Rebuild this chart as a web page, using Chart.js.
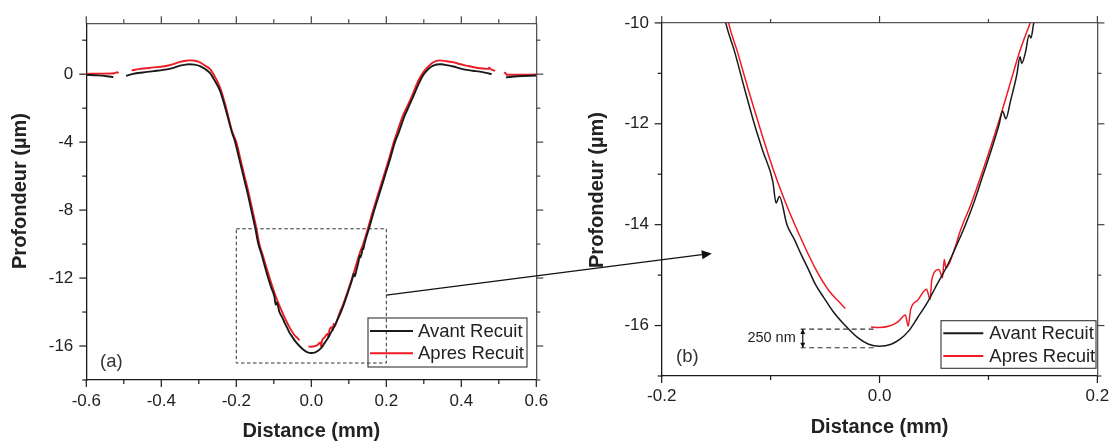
<!DOCTYPE html>
<html><head><meta charset="utf-8">
<script src="https://cdn.jsdelivr.net/npm/chart.js@4.4.1/dist/chart.umd.min.js"></script>
<style>
html,body{margin:0;padding:0;background:#fff;}
#wrap{position:relative;width:1119px;height:444px;overflow:hidden;background:#fff;}
canvas{position:absolute;top:0;}
</style></head><body>
<div id="wrap">
<canvas id="cA" width="560" height="444" style="left:0;width:560px;height:444px"></canvas>
<canvas id="cB" width="559" height="444" style="left:560px;width:559px;height:444px"></canvas>
<canvas id="ov" width="1119" height="444" style="left:0;width:1119px;height:444px;pointer-events:none"></canvas>
</div>
<script>
// ---------------- data ----------------
const seriesLabels = ['Avant Recuit', 'Apres Recuit'];
const seriesColors = ['#1a1a1a', '#ed1c24'];
const xTitle = 'Distance (mm)';
const yTitle = 'Profondeur (µm)';

// [distance (mm), depth (µm)] ; null = gap in the profile
const avant = [
 [-0.6,-0.04],[-0.57,-0.07],[-0.545,-0.12],[-0.528,-0.17],[-0.51,null],[-0.494,-0.1],[-0.475,0.02],
 [-0.45,0.1],[-0.42,0.18],[-0.395,0.25],[-0.37,0.36],[-0.35,0.5],[-0.335,0.56],[-0.325,0.58],
 [-0.312,0.56],[-0.297,0.48],[-0.283,0.3],[-0.27,0.06],[-0.257,-0.4],[-0.243,-1.0],[-0.228,-2.1],
 [-0.212,-3.4],[-0.203,-4.0],[-0.192,-5.0],[-0.181,-6.0],[-0.17,-7.0],[-0.16,-8.0],[-0.15,-9.0],
 [-0.1412,-10],[-0.1331,-10.57],[-0.124,-11.3],[-0.115,-12.0],[-0.107,-12.55],[-0.098,-13.14],
 [-0.095,-13.57],[-0.092,-13.44],[-0.085,-14.0],[-0.078,-14.3],[-0.072,-14.59],[-0.065,-14.9],
 [-0.059,-15.18],[-0.051,-15.45],[-0.043,-15.71],[-0.0315,-16.0],[-0.02,-16.24],[-0.01,-16.37],
 [0,-16.41],[0.0107,-16.37],[0.0188,-16.27],[0.027,-16.1],[0.035,-15.84],[0.0448,-15.51],
 [0.0529,-15.18],[0.0627,-14.79],[0.0724,-14.33],[0.0789,-14.0],[0.087,-13.54],[0.0951,-13.01],
 [0.1032,-12.48],[0.1097,-12.02],[0.113,-11.75],[0.116,-11.9],[0.1201,-11.56],[0.126,-11.03],
 [0.129,-10.67],[0.1305,-10.8],[0.1341,-10.57],[0.1373,-10.24],[0.139,-10.3],[0.1416,-10.0],
 [0.155,-9.0],[0.168,-8.0],[0.182,-7.0],[0.196,-6.0],[0.21,-5.0],[0.223,-4.0],[0.232,-3.5],
 [0.248,-2.5],[0.26,-1.9],[0.272,-1.3],[0.288,-0.5],[0.299,-0.04],[0.312,0.3],[0.325,0.5],
 [0.345,0.58],[0.365,0.52],[0.379,0.45],[0.395,0.35],[0.414,0.25],[0.43,0.2],[0.45,0.15],
 [0.466,0.08],[0.481,0.0],[0.5,null],[0.519,-0.19],[0.55,-0.12],[0.6,-0.08]
];
const apres = [
 [-0.6,0.02],[-0.56,0.03],[-0.525,0.05],[-0.518,0.12],[-0.514,0.05],[-0.5,null],[-0.479,0.22],
 [-0.46,0.3],[-0.44,0.35],[-0.42,0.4],[-0.395,0.45],[-0.37,0.58],[-0.35,0.72],[-0.335,0.79],
 [-0.325,0.81],[-0.31,0.79],[-0.297,0.7],[-0.283,0.5],[-0.27,0.3],[-0.257,-0.15],[-0.243,-0.8],
 [-0.228,-1.9],[-0.212,-3.3],[-0.2,-4.0],[-0.189,-5.0],[-0.178,-6.0],[-0.167,-7.0],[-0.157,-8.0],
 [-0.147,-9.0],[-0.1386,-10],[-0.1305,-10.57],[-0.1208,-11.3],[-0.111,-12.0],[-0.098,-12.88],
 [-0.0867,-13.54],[-0.0737,-14.2],[-0.0591,-14.86],[-0.0461,-15.32],[-0.038,-15.51],[-0.0315,-15.66],
 [-0.02,null],[-0.0078,-16.03],[-0.0006,-16.04],[0.009,-16.01],[0.0172,-15.92],[0.0237,-15.79],
 [0.0263,-16.01],[0.0286,-15.68],[0.035,-15.5],[0.0432,-15.28],[0.0464,-15.48],[0.048,-15.09],
 [0.0545,-14.89],[0.0578,-15.05],[0.0594,-14.69],[0.061,-14.86],[0.0692,-14.46],[0.074,-14.13],
 [0.0838,-13.6],[0.0935,-13.01],[0.1032,-12.38],[0.1114,-11.82],[0.1195,-11.23],[0.1276,-10.64],
 [0.1341,-10.24],[0.1383,-10],[0.152,-9.0],[0.165,-8.0],[0.179,-7.0],[0.193,-6.0],[0.207,-5.0],
 [0.22,-4.0],[0.229,-3.4],[0.245,-2.4],[0.258,-1.8],[0.27,-1.2],[0.285,-0.4],[0.299,0.12],
 [0.312,0.45],[0.325,0.7],[0.343,0.81],[0.36,0.76],[0.379,0.7],[0.395,0.6],[0.414,0.5],
 [0.43,0.42],[0.45,0.35],[0.472,0.31],[0.474,0.38],[0.478,0.3],[0.49,0.19],[0.5,null],
 [0.514,0.1],[0.518,0.05],[0.521,-0.03],[0.56,-0.03],[0.6,-0.02]
];

// axes / ticks
const aXRange = [-0.6, 0.6], aYRange = [-18, 3];
const aXMajor = [-0.6,-0.4,-0.2,0,0.2,0.4,0.6], aXMinor = [-0.5,-0.3,-0.1,0.1,0.3,0.5];
const aYMajor = [0,-4,-8,-12,-16], aYMinor = [2,-2,-6,-10,-14,-18];
const bXRange = [-0.2, 0.2], bYRange = [-17, -10];
const bXMajor = [-0.2,0,0.2], bXMinor = [-0.1,0.1];
const bYMajor = [-10,-12,-14,-16], bYMinor = [-11,-13,-15,-17];

// annotations (data units)
const zoomBoxX = [-0.2, 0.2], zoomBoxY = [-17, -9.1];
const arrowFrom = [0.2, -13];       // panel (a)
const arrowTo = [-0.154, -14.57];   // panel (b)
const gapText = '250 nm';
const gapLevels = [-16.07, -16.44];
const gapSpanX = [-0.0724, -0.0047];
const gapArrowX = -0.0705;
const panelLabels = ['(a)', '(b)'];

// ---------------- drawing ----------------
const FONT = '"Liberation Sans", Arial, Helvetica, sans-serif';
const toPts = arr => arr.map(([x, y]) => ({x, y}));

const decor = {
  id: 'decor',
  afterDatasetsDraw(chart, args, o) {
    const ctx = chart.ctx, s = chart.scales;
    if (o.zoomBox) {
      const x1 = s.x.getPixelForValue(o.zoomBox.x[0]), x2 = s.x.getPixelForValue(o.zoomBox.x[1]);
      const y1 = s.y.getPixelForValue(o.zoomBox.y[1]), y2 = s.y.getPixelForValue(o.zoomBox.y[0]);
      ctx.save(); ctx.strokeStyle = '#333'; ctx.lineWidth = 1; ctx.setLineDash([3.5, 2.5]);
      ctx.strokeRect(x1, y1, x2 - x1, y2 - y1); ctx.restore();
    }
    if (o.gap) {
      ctx.save(); ctx.strokeStyle = '#333'; ctx.lineWidth = 1.1; ctx.setLineDash([5, 3.5]);
      const xa = s.x.getPixelForValue(gapSpanX[0]), xb = s.x.getPixelForValue(gapSpanX[1]);
      const ys = gapLevels.map(v => s.y.getPixelForValue(v));
      ys.forEach(yy => { ctx.beginPath(); ctx.moveTo(xa, yy); ctx.lineTo(xb, yy); ctx.stroke(); });
      ctx.setLineDash([]);
      const ax = s.x.getPixelForValue(gapArrowX);
      ctx.strokeStyle = '#111'; ctx.lineWidth = 1.2;
      ctx.beginPath(); ctx.moveTo(ax, ys[0]); ctx.lineTo(ax, ys[1]); ctx.stroke();
      ctx.fillStyle = '#111';
      ctx.beginPath(); ctx.moveTo(ax, ys[0]); ctx.lineTo(ax - 2.5, ys[0] + 5); ctx.lineTo(ax + 2.5, ys[0] + 5); ctx.closePath(); ctx.fill();
      ctx.beginPath(); ctx.moveTo(ax, ys[1]); ctx.lineTo(ax - 2.5, ys[1] - 5); ctx.lineTo(ax + 2.5, ys[1] - 5); ctx.closePath(); ctx.fill();
      ctx.font = '14.5px ' + FONT; ctx.fillStyle = '#222'; ctx.textAlign = 'right'; ctx.textBaseline = 'middle';
      ctx.fillText(gapText, ax - 7, (ys[0] + ys[1]) / 2);
      ctx.restore();
    }
  },
  afterDraw(chart, args, o) {
    const ctx = chart.ctx, s = chart.scales, ca = chart.chartArea;
    ctx.save();
    const line = (a, b, c, d) => { ctx.beginPath(); ctx.moveTo(a, b); ctx.lineTo(c, d); ctx.stroke(); };
    ctx.lineWidth = 1.2;
    const doX = (vals, len) => vals.forEach(v => {
      const p = s.x.getPixelForValue(v);
      ctx.strokeStyle = '#1a1a1a'; line(p, ca.bottom, p, ca.bottom + len);
      ctx.strokeStyle = '#444'; line(p, ca.top, p, ca.top - len);
    });
    const doY = (vals, len) => vals.forEach(v => {
      const p = s.y.getPixelForValue(v);
      ctx.strokeStyle = '#1a1a1a'; line(ca.left, p, ca.left - len, p);
      ctx.strokeStyle = '#444'; line(ca.right, p, ca.right + len, p);
    });
    doX(o.xMajor, 7); doX(o.xMinor, 4); doY(o.yMajor, 7); doY(o.yMinor, 4);
    // y-axis title
    ctx.save();
    ctx.translate(o.yTitle.x, o.yTitle.y); ctx.rotate(-Math.PI / 2);
    ctx.font = 'bold 20px ' + FONT; ctx.fillStyle = '#222'; ctx.textAlign = 'center'; ctx.textBaseline = 'middle';
    ctx.fillText(yTitle, 0, 0);
    ctx.restore();
    // legend
    const L = o.legend;
    ctx.strokeStyle = '#333'; ctx.lineWidth = 1.1;
    ctx.strokeRect(L.x, L.y, L.w, L.h);
    ctx.font = '18.5px ' + FONT; ctx.textAlign = 'left'; ctx.textBaseline = 'middle';
    chart.data.datasets.forEach((ds, i) => {
      const yy = L.y + L.rows[i];
      ctx.strokeStyle = ds.borderColor; ctx.lineWidth = 2;
      line(L.x + L.s0, yy, L.x + L.s1, yy);
      ctx.fillStyle = '#222'; ctx.fillText(ds.label, L.x + L.tx, yy + 1);
    });
    // panel label
    ctx.fillStyle = '#333'; ctx.font = '18.5px ' + FONT;
    ctx.fillText(o.panel.text, o.panel.x, o.panel.y);
    ctx.restore();
  }
};

function build(id, c) {
  const axisBase = (pos, range) => ({
    type: 'linear', position: pos, min: range[0], max: range[1],
    grid: {display: false, drawTicks: false},
    border: {display: true, color: (pos === 'bottom' || pos === 'left') ? '#1a1a1a' : '#555', width: 1.3}
  });
  return new Chart(document.getElementById(id), {
    type: 'line',
    data: {datasets: [
      {label: seriesLabels[0], data: toPts(avant), borderColor: seriesColors[0], borderWidth: c.lw,
       pointRadius: 0, cubicInterpolationMode: 'monotone', spanGaps: false, fill: false},
      {label: seriesLabels[1], data: toPts(apres), borderColor: seriesColors[1], borderWidth: c.lw,
       pointRadius: 0, cubicInterpolationMode: 'monotone', spanGaps: false, fill: false}
    ]},
    options: {
      responsive: false, animation: false, devicePixelRatio: 1,
      layout: {padding: 0},
      events: [],
      plugins: {legend: {display: false}, tooltip: {enabled: false}, decor: c.decor},
      scales: {
        x: Object.assign(axisBase('bottom', c.xr), {
          afterBuildTicks: s => { s.ticks = c.decor.xMajor.map(v => ({value: v})); },
          afterFit: s => { s.height = c.bottomH; },
          ticks: {font: {family: FONT, size: 17}, color: '#222', padding: c.xPad, maxRotation: 0, autoSkip: false,
                  callback: v => Number(v).toFixed(1)},
          title: {display: true, text: xTitle, color: '#222', font: {family: FONT, size: 20, weight: 'bold'},
                  padding: {top: 0, bottom: c.xtPad}}
        }),
        x2: Object.assign(axisBase('top', c.xr), {
          afterFit: s => { s.height = c.topH; }, ticks: {display: false}
        }),
        y: Object.assign(axisBase('left', c.yr), {
          afterBuildTicks: s => { s.ticks = c.decor.yMajor.map(v => ({value: v})); },
          afterFit: s => { s.width = c.leftW; },
          ticks: {font: {family: FONT, size: 17}, color: '#222', padding: c.yPad, autoSkip: false,
                  callback: v => String(v)},
          title: {display: false}
        }),
        y2: Object.assign(axisBase('right', c.yr), {
          afterFit: s => { s.width = c.rightW; }, ticks: {display: false}
        })
      }
    },
    plugins: [decor]
  });
}

const chartA = build('cA', {
  xr: aXRange, yr: aYRange, lw: 1.9,
  leftW: 86.3, rightW: 23.7, topH: 17.3, bottomH: 64,
  xPad: 10.8, yPad: 13, xtPad: 1,
  decor: {
    xMajor: aXMajor, xMinor: aXMinor, yMajor: aYMajor, yMinor: aYMinor,
    zoomBox: {x: zoomBoxX, y: zoomBoxY},
    yTitle: {x: 20, y: 191},
    legend: {x: 368, y: 318, w: 159, h: 49, rows: [13, 35.3], s0: 2, s1: 45, tx: 50},
    panel: {text: panelLabels[0], x: 100, y: 362}
  }
});
const chartB = build('cB', {
  xr: bXRange, yr: bYRange, lw: 1.5,
  leftW: 101.7, rightW: 18.3, topH: 21, bottomH: 68,
  xPad: 9.8, yPad: 12.7, xtPad: 5,
  decor: {
    xMajor: bXMajor, xMinor: bXMinor, yMajor: bYMajor, yMinor: bYMinor,
    gap: true,
    yTitle: {x: 37, y: 190},
    legend: {x: 381, y: 320.7, w: 155, h: 47.6, rows: [12.6, 35.3], s0: 2.3, s1: 42.3, tx: 48.3},
    panel: {text: panelLabels[1], x: 116, y: 357}
  }
});

// connecting arrow between the two panels
(function () {
  const ctx = document.getElementById('ov').getContext('2d');
  const offB = 560;
  const x1 = chartA.scales.x.getPixelForValue(arrowFrom[0]), y1 = chartA.scales.y.getPixelForValue(arrowFrom[1]);
  const x2 = offB + chartB.scales.x.getPixelForValue(arrowTo[0]), y2 = chartB.scales.y.getPixelForValue(arrowTo[1]);
  const ang = Math.atan2(y2 - y1, x2 - x1), hl = 10, hw = 4.5;
  const bx = x2 - hl * Math.cos(ang), by = y2 - hl * Math.sin(ang);
  ctx.strokeStyle = '#111'; ctx.fillStyle = '#111'; ctx.lineWidth = 1.2;
  ctx.beginPath(); ctx.moveTo(x1, y1); ctx.lineTo(bx, by); ctx.stroke();
  ctx.beginPath(); ctx.moveTo(x2, y2);
  ctx.lineTo(bx + hw * Math.sin(ang), by - hw * Math.cos(ang));
  ctx.lineTo(bx - hw * Math.sin(ang), by + hw * Math.cos(ang));
  ctx.closePath(); ctx.fill();
})();
</script>
</body></html>
